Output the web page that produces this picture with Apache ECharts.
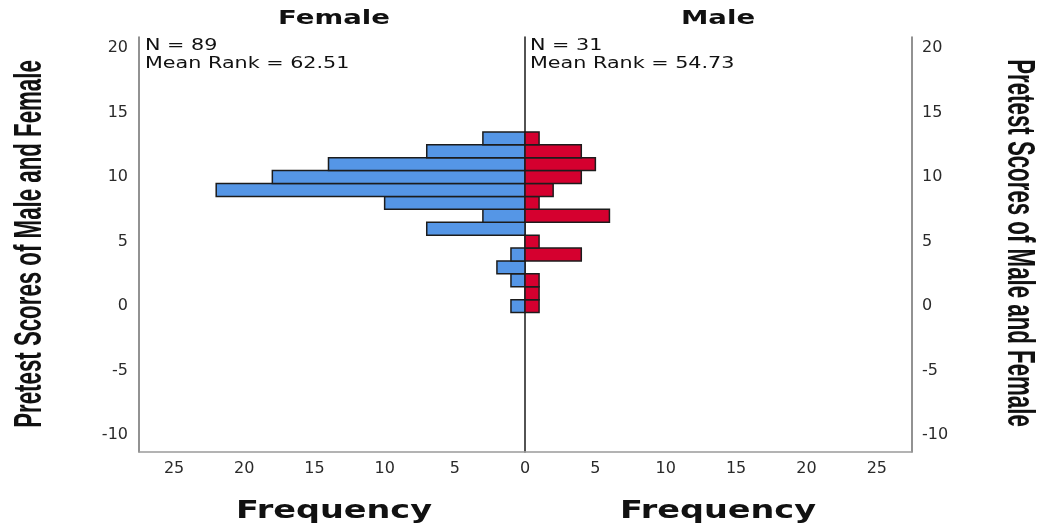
<!DOCTYPE html>
<html>
<head>
<meta charset="utf-8">
<script src="https://cdn.jsdelivr.net/npm/echarts@6/dist/echarts.min.js"></script>
<style>
html,body{margin:0;padding:0;background:#fff;}
#chart{width:1044px;height:527px;}
</style>
</head>
<body>
<div id="chart"></div>
<script>
// Data
const scores = [0, 1, 2, 3, 4, 5, 6, 7, 8, 9, 10, 11, 12, 13];
const femaleCounts = [1, 0, 1, 2, 1, 0, 7, 3, 10, 22, 18, 14, 7, 3];
const maleCounts = [1, 1, 1, 0, 4, 1, 0, 6, 1, 2, 4, 5, 4, 1];
const yTickLabels = [-10, -5, 0, 5, 10, 15, 20];
const xTickLabels = [0, 5, 10, 15, 20, 25];
const panelTitles = ['Female', 'Male'];
const panelStats = [['N = 89', 'Mean Rank = 62.51'], ['N = 31', 'Mean Rank = 54.73']];
const xTitle = 'Frequency';
const yTitle = 'Pretest Scores of Male and Female';

const chart = echarts.init(document.getElementById('chart'), null, {renderer: 'canvas'});

const Y_MIN = -11.3, Y_MAX = 20.85, X_MAX = 27.5;
const labelFont = {fontFamily: 'DejaVu Sans', fontSize: 16, color: '#2a2a2a'};

function yFmt(v) {
  return yTickLabels.some(t => Math.abs(t - v) < 1e-6) ? String(Math.round(v)) : '';
}
function xFmtLeft(v) {
  return xTickLabels.some(t => Math.abs(t - v) < 1e-6) ? String(Math.round(v)) : '';
}
function xFmtRight(v) {
  return (Math.abs(v) > 1e-6 && xTickLabels.some(t => Math.abs(t - v) < 1e-6)) ? String(Math.round(v)) : '';
}

function barRenderer(fill) {
  return function (params, api) {
    const c = api.value(0), s = api.value(1);
    if (!c) return null;
    const p1 = api.coord([0, s + 0.5]);
    const p2 = api.coord([c, s - 0.5]);
    return {
      type: 'rect',
      shape: {
        x: Math.min(p1[0], p2[0]),
        y: Math.min(p1[1], p2[1]),
        width: Math.abs(p2[0] - p1[0]),
        height: Math.abs(p2[1] - p1[1])
      },
      style: {fill: fill, stroke: '#1c1c1c', lineWidth: 1.5}
    };
  };
}

const option = {
  backgroundColor: '#fff',
  animation: false,
  grid: [
    {left: 139, top: 37, width: 386, height: 415, outerBoundsMode: 'none'},
    {left: 525, top: 37, width: 387, height: 415, outerBoundsMode: 'none'}
  ],
  xAxis: [
    {
      gridIndex: 0, type: 'value', inverse: true, min: 0, max: X_MAX, interval: 5,
      axisLine: {show: true, onZero: false, lineStyle: {color: '#9a9a9a', width: 1.5}},
      axisTick: {show: false}, splitLine: {show: false},
      axisLabel: Object.assign({margin: 9, formatter: xFmtLeft, showMaxLabel: false}, labelFont)
    },
    {
      gridIndex: 1, type: 'value', min: 0, max: X_MAX, interval: 5,
      axisLine: {show: true, onZero: false, lineStyle: {color: '#9a9a9a', width: 1.5}},
      axisTick: {show: false}, splitLine: {show: false},
      axisLabel: Object.assign({margin: 9, formatter: xFmtRight, showMaxLabel: false}, labelFont)
    }
  ],
  yAxis: [
    {
      gridIndex: 0, type: 'value', position: 'left', min: Y_MIN, max: Y_MAX, splitNumber: 6,
      axisLine: {show: true, onZero: false, lineStyle: {color: '#6e6e6e', width: 1.5}},
      axisTick: {show: false}, splitLine: {show: false},
      axisLabel: Object.assign({margin: 11, formatter: yFmt}, labelFont)
    },
    {
      gridIndex: 1, type: 'value', position: 'right', min: Y_MIN, max: Y_MAX, splitNumber: 6,
      axisLine: {show: true, onZero: false, lineStyle: {color: '#6e6e6e', width: 1.5}},
      axisTick: {show: false}, splitLine: {show: false},
      axisLabel: Object.assign({margin: 10, formatter: yFmt}, labelFont)
    },
    {
      gridIndex: 1, type: 'value', position: 'left', min: Y_MIN, max: Y_MAX,
      axisLine: {show: true, onZero: false, lineStyle: {color: '#1a1a1a', width: 1.5}},
      axisTick: {show: false}, splitLine: {show: false}, axisLabel: {show: false}
    }
  ],
  series: [
    {
      type: 'custom', name: 'Female', xAxisIndex: 0, yAxisIndex: 0,
      renderItem: barRenderer('#5596e6'),
      encode: {x: 0, y: 1},
      data: scores.map((s, i) => [femaleCounts[i], s]),
      z: 1
    },
    {
      type: 'custom', name: 'Male', xAxisIndex: 1, yAxisIndex: 1,
      renderItem: barRenderer('#d5002f'),
      encode: {x: 0, y: 1},
      data: scores.map((s, i) => [maleCounts[i], s]),
      z: 1
    }
  ],
  graphic: [
    {type: 'text', x: 334, y: 19, scaleX: 1.45, z: 10,
      style: {text: panelTitles[0], fontFamily: 'DejaVu Sans', fontWeight: 'bold', fontSize: 19, fill: '#111', align: 'center', verticalAlign: 'middle'}},
    {type: 'text', x: 718, y: 19, scaleX: 1.45, z: 10,
      style: {text: panelTitles[1], fontFamily: 'DejaVu Sans', fontWeight: 'bold', fontSize: 19, fill: '#111', align: 'center', verticalAlign: 'middle'}},
    {type: 'text', x: 145, y: 46, scaleX: 1.38, z: 10,
      style: {text: panelStats[0][0], fontFamily: 'DejaVu Sans', fontSize: 15, fill: '#111', align: 'left', verticalAlign: 'middle'}},
    {type: 'text', x: 145, y: 64, scaleX: 1.38, z: 10,
      style: {text: panelStats[0][1], fontFamily: 'DejaVu Sans', fontSize: 15, fill: '#111', align: 'left', verticalAlign: 'middle'}},
    {type: 'text', x: 530, y: 46, scaleX: 1.38, z: 10,
      style: {text: panelStats[1][0], fontFamily: 'DejaVu Sans', fontSize: 15, fill: '#111', align: 'left', verticalAlign: 'middle'}},
    {type: 'text', x: 530, y: 64, scaleX: 1.38, z: 10,
      style: {text: panelStats[1][1], fontFamily: 'DejaVu Sans', fontSize: 15, fill: '#111', align: 'left', verticalAlign: 'middle'}},
    {type: 'text', x: 334, y: 511, scaleX: 1.34, z: 10,
      style: {text: xTitle, fontFamily: 'DejaVu Sans', fontWeight: 'bold', fontSize: 25, fill: '#111', align: 'center', verticalAlign: 'middle'}},
    {type: 'text', x: 718, y: 511, scaleX: 1.34, z: 10,
      style: {text: xTitle, fontFamily: 'DejaVu Sans', fontWeight: 'bold', fontSize: 25, fill: '#111', align: 'center', verticalAlign: 'middle'}},
    {type: 'text', x: 30, y: 244, rotation: Math.PI / 2, scaleX: 0.825, scaleY: 1.45, z: 10,
      style: {text: yTitle, fontFamily: 'Liberation Sans', fontWeight: 'bold', fontSize: 27, fill: '#111', align: 'center', verticalAlign: 'middle'}},
    {type: 'text', x: 1019, y: 243, rotation: -Math.PI / 2, scaleX: 0.825, scaleY: 1.45, z: 10,
      style: {text: yTitle, fontFamily: 'Liberation Sans', fontWeight: 'bold', fontSize: 27, fill: '#111', align: 'center', verticalAlign: 'middle'}}
  ]
};

chart.setOption(option);
</script>
</body>
</html>
